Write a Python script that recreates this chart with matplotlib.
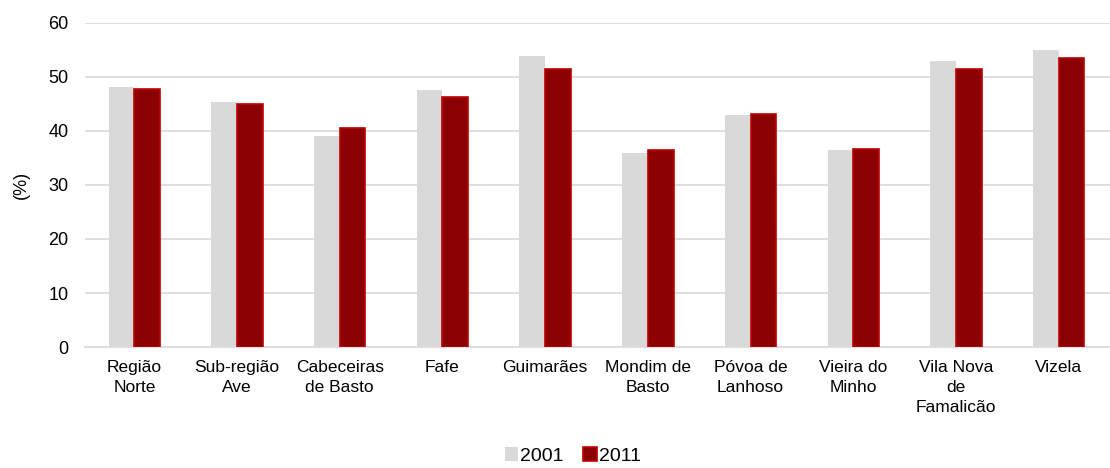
import numpy as np
import matplotlib.pyplot as plt

plt.rcParams['font.family'] = ['Liberation Sans', 'DejaVu Sans']

categories = ["Região\nNorte", "Sub-região\nAve", "Cabeceiras\nde Basto", "Fafe", "Guimarães",
              "Mondim de\nBasto", "Póvoa de\nLanhoso", "Vieira do\nMinho", "Vila Nova\nde\nFamalicão", "Vizela"]
vals_2001 = [48.2, 45.4, 39.0, 47.5, 53.9, 35.9, 43.0, 36.5, 53.0, 54.9]
vals_2011 = [47.8, 45.0, 40.6, 46.3, 51.5, 36.5, 43.1, 36.7, 51.4, 53.6]

x = np.arange(len(categories))
w = 0.25

fig = plt.figure(figsize=(11.1, 4.68), dpi=100)
ax = fig.add_axes([0.0766, 0.2585, 0.9234, 0.6925])

ax.bar(x - w/2, vals_2001, width=w, color='#D9D9D9', label='2001', zorder=3)
ax.bar(x + w/2, vals_2011, width=w, color='#8B0000', edgecolor='#C00000', linewidth=1.2,
       label='2011', zorder=3)

ax.set_ylim(0, 60)
ax.set_xlim(-0.48, len(categories) - 0.5)
ax.set_yticks(range(0, 61, 10))
ax.set_xticks(x)
ax.set_xticklabels(categories, fontsize=12.5, linespacing=1.45)
ax.tick_params(axis='y', labelsize=13, length=0, pad=12)
ax.tick_params(axis='x', length=0, pad=9)
ax.grid(axis='y', color='#D9D9D9', linewidth=1.2, zorder=0)
for s in ['top', 'right', 'left']:
  ax.spines[s].set_visible(False)
ax.spines['bottom'].set_color('#D9D9D9')
ax.spines['bottom'].set_linewidth(1.2)
ax.set_ylabel('(%)', fontsize=13, labelpad=13)

fig.legend(loc='lower center', bbox_to_anchor=(0.516, -0.03), ncol=2, frameon=False,
           fontsize=14, handlelength=0.7, handleheight=0.7, handletextpad=0.1, columnspacing=1.0)

fig.savefig("out.png", dpi=100)
